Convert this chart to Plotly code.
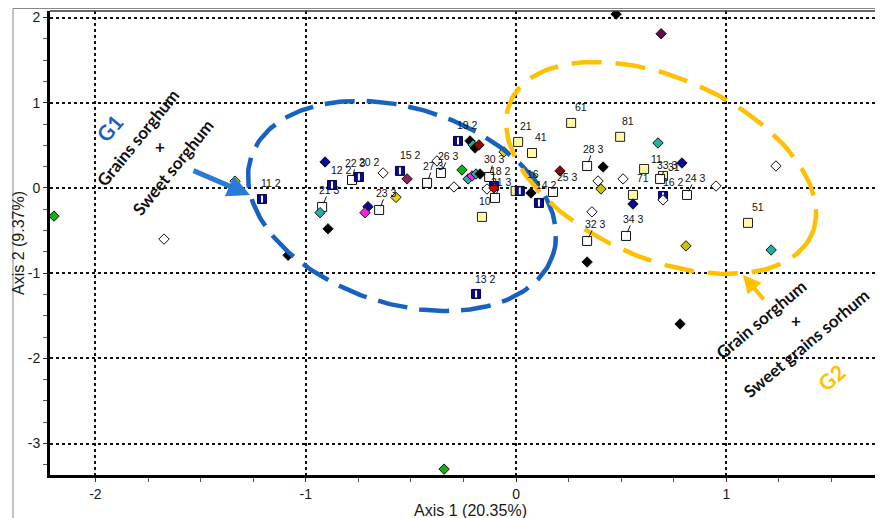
import numpy as np
import plotly.graph_objects as go

# ---------------- data (Axis 1, Axis 2 scores) ----------------
# white squares (with leader line to label)
sq_x = [-0.922, -0.780, -0.651, -0.423, -0.357, -0.128, -0.100, 0.176, 0.338, 0.685, 0.813, 0.338, 0.523]
sq_y = [-0.223, 0.094, -0.258, 0.059, 0.176, 0.129, -0.117, -0.047, 0.258, 0.106, -0.082, -0.622, -0.563]
sq_lab = ["21 3", "22 3", "23 3", "27 3", "26 3", "30 3", "21 3", "14 2", "28 3", "33 3", "24 3", "32 3", "34 3"]

# pale-yellow squares
ysq_x = [-0.162, 0.010, 0.076, 0.262, 0.495, 0.556, 0.609, 0.699, 1.103, -0.002]
ysq_y = [-0.340, 0.540, 0.410, 0.763, 0.600, -0.082, 0.223, 0.141, -0.410, -0.035]
ysq_lab = ["", "21", "41", "61", "81", "71", "", "31", "51", ""]

# navy "cup" squares
u_x = [-1.208, -0.875, -0.747, -0.552, -0.276, -0.105, 0.018, 0.109, -0.190, 0.699]
u_y = [-0.130, 0.035, 0.129, 0.200, 0.552, 0.023, -0.035, -0.176, -1.244, -0.094]
u_lab = ["11 2", "12 2", "20 2", "15 2", "19 2", "18 2", "", "", "13 2", "16 2"]

# diamonds
d_x = [-2.197, -1.336, -1.674, -1.084, -0.342, -0.908, -0.932, -0.632, -0.704, -0.718,
       -0.571, -0.894, -0.518, -0.376, -0.295, -0.257, -0.228, -0.209, -0.190, -0.171,
       -0.219, -0.204, -0.195, -0.176, -0.057, -0.138, -0.105, 0.209, 0.076, 0.071,
       0.414, 0.390, 0.404, 0.509, 0.556, 0.675, 0.789, 0.699, 0.951, 1.236,
       1.213, 1.736, 0.808, 0.361, 0.338, 0.780, 0.476, 0.690]
d_y = [-0.330, 0.080, -0.600, -0.790, -3.300, 0.305, -0.290, 0.176, -0.220, -0.290,
       -0.110, -0.480, 0.106, 0.317, 0.012, 0.211, 0.106, 0.141, 0.164, 0.164,
       0.552, 0.505, 0.469, 0.505, 0.423, -0.012, 0.000, 0.200, 0.130, -0.059,
       0.246, 0.082, -0.012, 0.106, -0.188, 0.528, 0.293, -0.140, 0.023, 0.258,
       -0.728, -0.646, -0.680, -0.280, -0.869, -1.596, 2.040, 1.810]
d_col = ["green", "yellow", "white", "black", "green", "navy", "cyan", "white", "navy", "magenta",
         "yellow", "black", "darkmagenta", "white", "white", "green", "cyan", "magenta", "cyan", "black",
         "black", "cyan", "black", "darkred", "yellow", "white", "red", "darkred", "green", "black",
         "black", "white", "olive", "white", "navy", "cyan", "navy", "white", "white", "white",
         "cyan", "darkred", "olive", "white", "black", "black", "black", "purple"]
d_lab = [""] * len(d_x)
d_lab[25] = "10"
d_lab[27] = "25 3"
d_lab[28] = "16"
d_lab[35] = "11"

x_ticks = [-2, -1, 0, 1]
y_ticks = [2, 1, 0, -1, -2, -3]

# ---------------- styles ----------------
palette = {"green": "#10B010", "yellow": "#E8D400", "white": "#FFFFFF", "black": "#000000",
           "navy": "#0A0A90", "cyan": "#20B0A8", "magenta": "#FF20E0", "darkmagenta": "#902060",
           "darkred": "#8A0A0A", "red": "#D00000", "olive": "#C8C400", "purple": "#5A1050"}

sq_off = [(7, -17), (4, -17), (7, -17), (6, -17), (8, -17), (5, -18), (6, -16), (-7, -7),
          (6, -17), (7, -14), (8, -17), (8, -17), (7, -17)]
ysq_off = [(0, 0), (8, -16), (9, -16), (10, -16), (8, -16), (10, -17), (0, 0), (11, -9), (10, -16), (0, 0)]
u_off = [(9, -16), (9, -15), (11, -15), (11, -16), (10, -16), (7, -15), (0, 0), (0, 0), (9, -15), (10, -14)]
d_off = {25: (-2, 12), 27: (8, 6), 28: (1, -3), 35: (-1, 16)}

# the page body adds an 8px offset, so the figure margins are shifted to compensate
W, H = 883, 518
ML, MR, MT, MB = 42, 0, 3, 51
XR = [-2.216, 1.783]
YR = [-3.369, 2.077]
PW, PH = W - ML - MR, H - MT - MB
SX = PW / (XR[1] - XR[0])
SY = PH / (YR[1] - YR[0])

BLUE = "#1762C0"
GOLD = "#FFC000"

fig = go.Figure()

fig.add_trace(go.Scatter(x=ysq_x, y=ysq_y, mode="markers", hoverinfo="skip",
                         marker=dict(symbol="square", size=9, color="#FFFAA8",
                                     line=dict(color="#222", width=1))))
fig.add_trace(go.Scatter(x=sq_x, y=sq_y, mode="markers", hoverinfo="skip",
                         marker=dict(symbol="square", size=9, color="white",
                                     line=dict(color="#111", width=1))))
fig.add_trace(go.Scatter(x=u_x, y=u_y, mode="markers", hoverinfo="skip",
                         marker=dict(symbol="square", size=9, color="#0A0A90",
                                     line=dict(color="#000040", width=1))))
fig.add_trace(go.Scatter(x=u_x, y=u_y, mode="markers", hoverinfo="skip",
                         marker=dict(symbol="line-ns", size=5,
                                     line=dict(color="white", width=2))))
fig.add_trace(go.Scatter(x=d_x, y=d_y, mode="markers", hoverinfo="skip",
                         marker=dict(symbol="diamond", size=8,
                                     color=[palette[c] for c in d_col],
                                     line=dict(color="#111", width=1))))


def ellipse(cx, cy, a_px, b_px, theta_deg, n=240):
    t = np.linspace(0, 2 * np.pi, n)
    th = np.radians(theta_deg)
    dx = a_px * np.cos(t) * np.cos(th) - b_px * np.sin(t) * np.sin(th)
    dy = a_px * np.cos(t) * np.sin(th) + b_px * np.sin(t) * np.cos(th)
    return cx + dx / SX, cy - dy / SY


bx, by = ellipse(-0.542, -0.211, 158.7, 97.8, 17.8)
fig.add_trace(go.Scatter(x=bx, y=by, mode="lines", hoverinfo="skip",
                         line=dict(color=BLUE, width=4.5, dash="30px,12px")))
gx, gy = ellipse(0.690, 0.235, 164.7, 90.3, 23.8)
fig.add_trace(go.Scatter(x=gx, y=gy, mode="lines", hoverinfo="skip",
                         line=dict(color=GOLD, width=4.5, dash="30px,14px")))

ann = []
lab_font = dict(family="Liberation Sans, Arial", size=10.5, color="#111")


def add_labels(xs, ys, labs, offs, stem):
    for i, (x, y, t) in enumerate(zip(xs, ys, labs)):
        if not t:
            continue
        dx, dy = offs[i]
        if stem:
            ann.append(dict(x=x, y=y, text=t, showarrow=True, ax=dx, ay=dy, arrowhead=0,
                            arrowwidth=1, arrowcolor="#111", standoff=4, borderpad=0,
                            font=lab_font))
        else:
            ann.append(dict(x=x, y=y, text=t, showarrow=False, xshift=dx, yshift=-dy,
                            font=lab_font))


add_labels(sq_x, sq_y, sq_lab, sq_off, True)
add_labels(ysq_x, ysq_y, ysq_lab, ysq_off, False)
add_labels(u_x, u_y, u_lab, u_off, False)
for i, t in enumerate(d_lab):
    if t:
        dx, dy = d_off[i]
        ann.append(dict(x=d_x[i], y=d_y[i], text=t, showarrow=False, xshift=dx, yshift=-dy,
                        font=lab_font))

bold = "Lato, Open Sans, sans-serif"
# group captions
ann += [
    dict(x=-1.931, y=0.704, text="<b>G1</b>", showarrow=False, textangle=-50,
         font=dict(family=bold, size=21, color=BLUE)),
    dict(x=-1.797, y=0.587, text="<b>Grains sorghum</b>", showarrow=False, textangle=-51,
         font=dict(family=bold, size=17, color="#111")),
    dict(x=-1.693, y=0.481, text="<b>+</b>", showarrow=False,
         font=dict(family=bold, size=17, color="#111")),
    dict(x=-1.631, y=0.235, text="<b>Sweet sorghum</b>", showarrow=False, textangle=-51,
         font=dict(family=bold, size=17, color="#111")),
    dict(x=1.165, y=-1.549, text="<b>Grain sorghum</b>", showarrow=False, textangle=-40,
         font=dict(family=bold, size=17, color="#111")),
    dict(x=1.331, y=-1.561, text="<b>+</b>", showarrow=False,
         font=dict(family=bold, size=17, color="#111")),
    dict(x=1.379, y=-1.831, text="<b>Sweet grains sorhum</b>", showarrow=False, textangle=-40,
         font=dict(family=bold, size=17, color="#111")),
    dict(x=1.498, y=-2.23, text="<b>G2</b>", showarrow=False, textangle=-40,
         font=dict(family=bold, size=21, color=GOLD)),
    # arrows
    dict(x=-1.265, y=-0.082, text="", showarrow=True, ax=-58, ay=-25, arrowhead=2,
         arrowsize=0.9, arrowwidth=5, arrowcolor="#2A7BD6"),
    dict(x=1.079, y=-1.02, text="", showarrow=True, ax=22, ay=26, arrowhead=2,
         arrowsize=0.9, arrowwidth=4, arrowcolor=GOLD),
]

FX = (5 - ML) / PW          # outer frame, left edge (paper units)
FY = (PH + MT - 0.5) / PH   # outer frame, top edge (paper units)
shapes = [
    dict(type="line", xref="paper", yref="paper", x0=0, x1=1, y0=1, y1=1,
         line=dict(color="#333", width=1.5)),
    dict(type="line", xref="paper", yref="paper", x0=FX, x1=FX,
         y0=-MB / PH, y1=FY, line=dict(color="#888", width=1)),
    dict(type="line", xref="paper", yref="paper", x0=FX, x1=1.0,
         y0=FY, y1=FY, line=dict(color="#888", width=1)),
]

axis_font = dict(family="Liberation Sans, Arial", size=14, color="#1a1a1a")
title_font = dict(family="Liberation Sans, Arial", size=16, color="#1a1a1a")
common = dict(showgrid=True, gridcolor="#111", griddash="dot", gridwidth=1.5,
              zeroline=False, showline=True, linecolor="#000", linewidth=3,
              ticks="outside", ticklen=4, tickcolor="#333", tickfont=axis_font,
              mirror=False, automargin=False,
              minor=dict(dtick=0.25, ticks="outside", ticklen=4, tickcolor="#555",
                         showgrid=False))

fig.update_layout(
    width=W, height=H, margin=dict(l=ML, r=MR, t=MT, b=MB),
    paper_bgcolor="white", plot_bgcolor="white", showlegend=False,
    xaxis=dict(range=XR, tickvals=x_ticks, ticktext=[str(v) for v in x_ticks],
               title=dict(text="Axis 1 (20.35%)", font=title_font, standoff=0), **common),
    yaxis=dict(range=YR, tickvals=y_ticks, ticktext=[str(v) for v in y_ticks],
               title=dict(text="Axis 2 (9.37%)", font=title_font, standoff=0), **common),
    annotations=ann, shapes=shapes,
)

fig.write_html("out.html")
